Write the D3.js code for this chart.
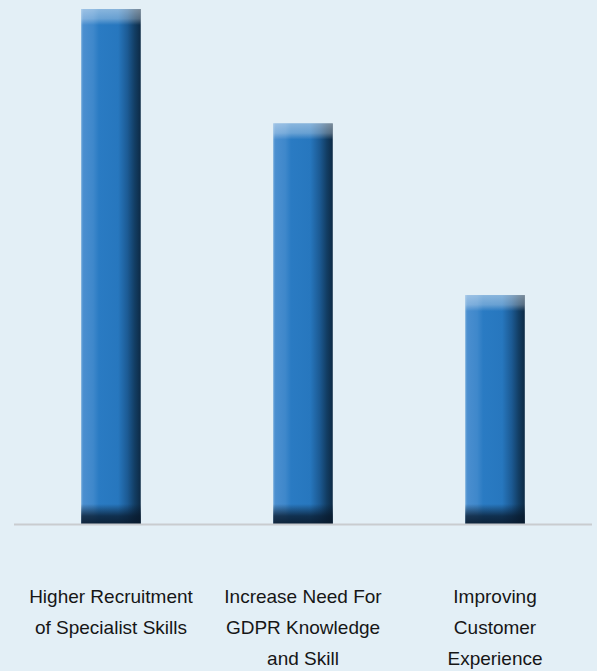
<!DOCTYPE html>
<html>
<head>
<meta charset="utf-8">
<script src="https://cdn.jsdelivr.net/npm/d3@7"></script>
<style>
  body { margin: 0; background: #e3eff6; }
  svg { display: block; }
  text { font-family: "Liberation Sans", Arial, sans-serif; }
</style>
</head>
<body>
<div id="chart"></div>
<script>
// chart data
const categories = [
  "Higher Recruitment of Specialist Skills",
  "Increase Need For GDPR Knowledge and Skill",
  "Improving Customer Experience"
];
const labelLines = [
  ["Higher Recruitment", "of Specialist Skills"],
  ["Increase Need For", "GDPR Knowledge", "and Skill"],
  ["Improving", "Customer", "Experience"]
];
const values = [45, 35, 20];

const width = 597, height = 671;
const margin = { left: 14, right: 5, top: 9, bottom: 147 };

const svg = d3.select("#chart").append("svg")
  .attr("width", width).attr("height", height);

svg.append("rect").attr("width", width).attr("height", height).attr("fill", "#e3eff6");

const x = d3.scaleBand()
  .domain(categories)
  .range([margin.left, width - margin.right])
  .paddingInner(0.69).paddingOuter(0.35);

const y = d3.scaleLinear()
  .domain([0, d3.max(values)])
  .range([height - margin.bottom, margin.top]);

const defs = svg.append("defs");

// horizontal shading across the bar
const side = defs.append("linearGradient").attr("id", "side")
  .attr("x1", 0).attr("x2", 1).attr("y1", 0).attr("y2", 0);
[[0, "#6aa4d8"], [0.04, "#4a8ecf"], [0.2, "#3f88cb"], [0.3, "#2a7bc3"],
 [0.62, "#2777be"], [0.78, "#1c5a93"], [0.9, "#123d63"], [1, "#0d2a45"]]
  .forEach(([o, c]) => side.append("stop").attr("offset", o).attr("stop-color", c));

// light cap on top
const cap = defs.append("linearGradient").attr("id", "cap")
  .attr("x1", 0).attr("x2", 0).attr("y1", 0).attr("y2", 1);
cap.append("stop").attr("offset", 0).attr("stop-color", "#ffffff").attr("stop-opacity", 0.45);
cap.append("stop").attr("offset", 0.6).attr("stop-color", "#ffffff").attr("stop-opacity", 0.3);
cap.append("stop").attr("offset", 1).attr("stop-color", "#ffffff").attr("stop-opacity", 0);

// dark shadow at the foot
const foot = defs.append("linearGradient").attr("id", "foot")
  .attr("x1", 0).attr("x2", 0).attr("y1", 0).attr("y2", 1);
foot.append("stop").attr("offset", 0).attr("stop-color", "#08182a").attr("stop-opacity", 0);
foot.append("stop").attr("offset", 0.6).attr("stop-color", "#08182a").attr("stop-opacity", 0.75);
foot.append("stop").attr("offset", 1).attr("stop-color", "#08182a").attr("stop-opacity", 0.9);

const bars = svg.append("g").selectAll("g")
  .data(categories.map((c, i) => ({ c, v: values[i] })))
  .join("g");

bars.append("rect")
  .attr("x", d => x(d.c)).attr("y", d => y(d.v))
  .attr("width", x.bandwidth()).attr("height", d => y(0) - y(d.v))
  .attr("fill", "url(#side)");

bars.append("rect")
  .attr("x", d => x(d.c)).attr("y", d => y(d.v))
  .attr("width", x.bandwidth()).attr("height", 16)
  .attr("fill", "url(#cap)");

bars.append("rect")
  .attr("x", d => x(d.c)).attr("y", y(0) - 20)
  .attr("width", x.bandwidth()).attr("height", 20)
  .attr("fill", "url(#foot)");

// baseline
svg.append("line")
  .attr("x1", margin.left).attr("x2", width - margin.right)
  .attr("y1", y(0) + 0.5).attr("y2", y(0) + 0.5)
  .attr("stroke", "#c9cccf").attr("stroke-width", 2);

// category labels
const labels = svg.append("g")
  .attr("font-size", 19).attr("fill", "#161616")
  .attr("text-anchor", "middle");

categories.forEach((c, i) => {
  const t = labels.append("text")
    .attr("x", x(c) + x.bandwidth() / 2).attr("y", 603);
  labelLines[i].forEach((line, j) => {
    t.append("tspan").attr("x", x(c) + x.bandwidth() / 2)
      .attr("dy", j === 0 ? 0 : 31).text(line);
  });
});
</script>
</body>
</html>
